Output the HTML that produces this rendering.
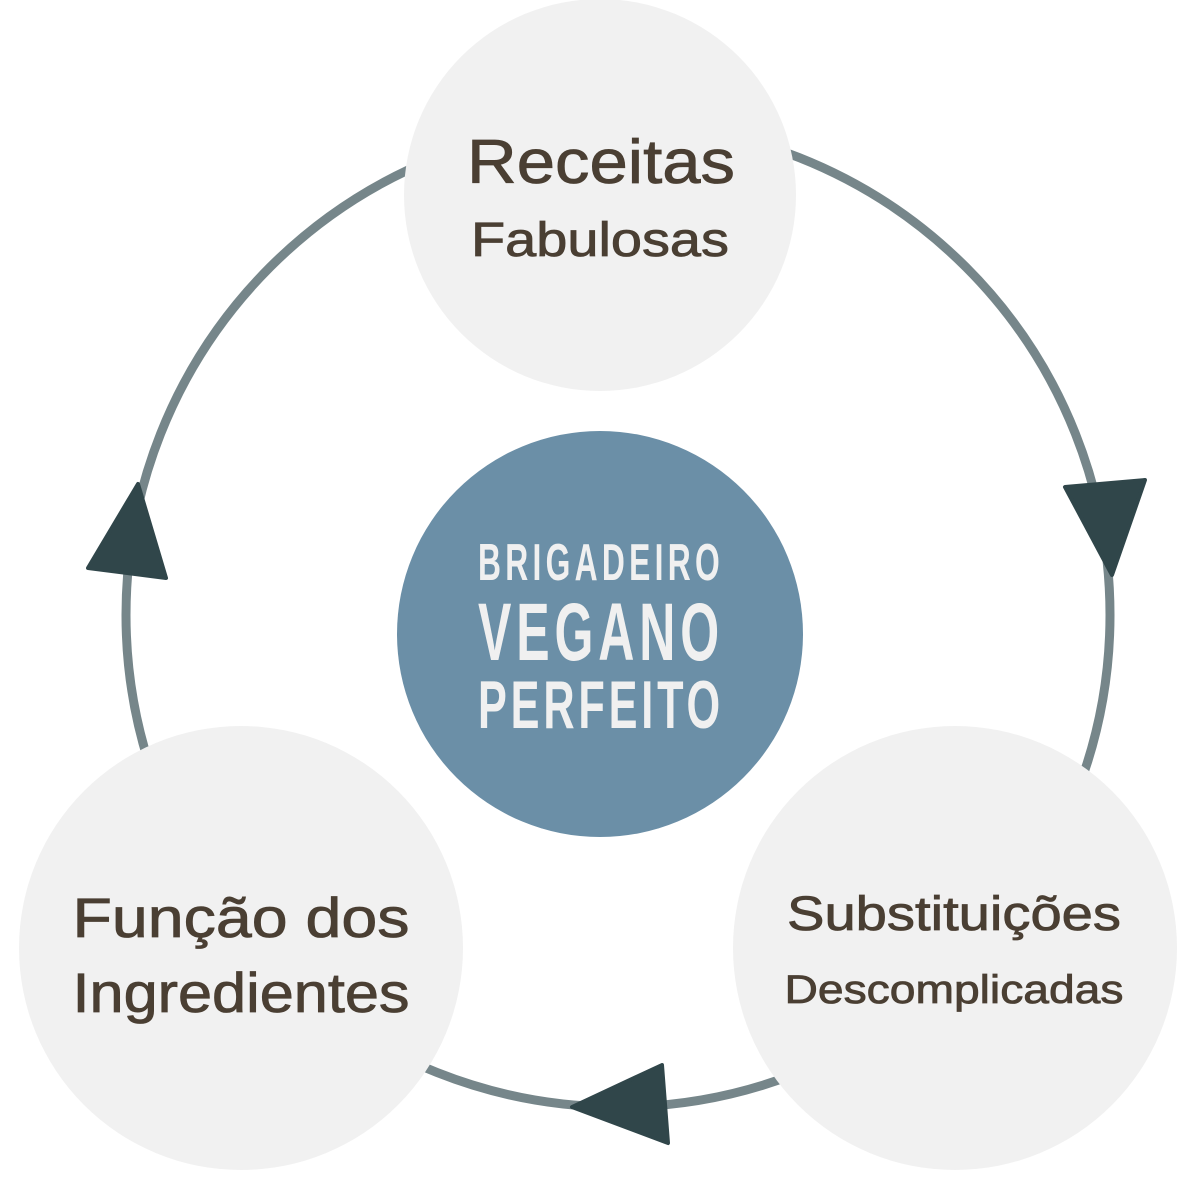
<!DOCTYPE html>
<html><head><meta charset="utf-8"><style>
body{margin:0;background:#fff}
svg{display:block}
.g{font-family:"Liberation Sans","DejaVu Sans",sans-serif;fill:#4a3f33;text-anchor:middle}
.c{font-family:"Liberation Sans Narrow","Liberation Sans",sans-serif;font-weight:bold;fill:#f0f0f0;text-anchor:middle}
</style></head><body>
<svg width="1200" height="1200" viewBox="0 0 1200 1200">
<circle cx="618" cy="615" r="492" fill="none" stroke="#76868a" stroke-width="9"/>
<circle cx="600" cy="195" r="196" fill="#f1f1f1"/>
<circle cx="241" cy="948" r="222" fill="#f1f1f1"/>
<circle cx="955" cy="948" r="222" fill="#f1f1f1"/>
<circle cx="600" cy="634" r="203" fill="#6b8fa7"/>
<polygon points="1065,487 1145,480 1112,575" fill="#30464a" stroke="#30464a" stroke-width="4" stroke-linejoin="round"/>
<polygon points="88,568 138,484 166,578" fill="#30464a" stroke="#30464a" stroke-width="4" stroke-linejoin="round"/>
<polygon points="662,1065 572,1107 668,1143" fill="#30464a" stroke="#30464a" stroke-width="4" stroke-linejoin="round"/>
<g stroke="#4a3f33" stroke-width="0.8">
<text class="g" x="601" y="183" font-size="62" textLength="268" lengthAdjust="spacingAndGlyphs">Receitas</text>
<text class="g" x="600" y="256" font-size="48" textLength="258" lengthAdjust="spacingAndGlyphs">Fabulosas</text>
<text class="g" x="241" y="937" font-size="56" textLength="337" lengthAdjust="spacingAndGlyphs">Função dos</text>
<text class="g" x="241" y="1012" font-size="56" textLength="337" lengthAdjust="spacingAndGlyphs">Ingredientes</text>
<text class="g" x="954" y="930" font-size="48" textLength="334" lengthAdjust="spacingAndGlyphs">Substituições</text>
<text class="g" x="954" y="1003" font-size="40" textLength="339" lengthAdjust="spacingAndGlyphs">Descomplicadas</text>
</g>
<text class="c" x="601" y="580" font-size="52" letter-spacing="7" textLength="246" lengthAdjust="spacingAndGlyphs">BRIGADEIRO</text>
<text class="c" x="601" y="660" font-size="82" letter-spacing="8" textLength="246" lengthAdjust="spacingAndGlyphs">VEGANO</text>
<text class="c" x="601" y="728" font-size="68" letter-spacing="6" textLength="246" lengthAdjust="spacingAndGlyphs">PERFEITO</text>
</svg>
</body></html>
